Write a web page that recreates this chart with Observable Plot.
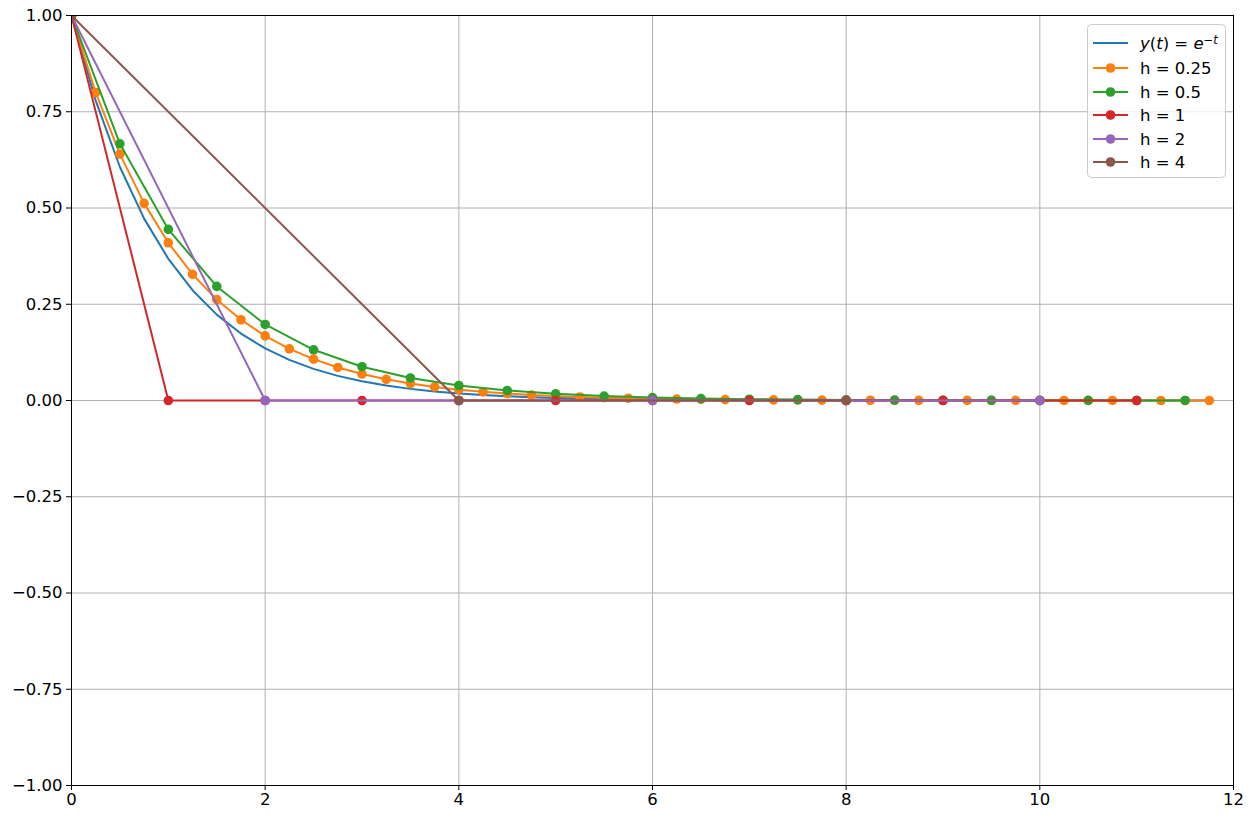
<!DOCTYPE html>
<html>
<head>
<meta charset="utf-8">
<script src="https://cdn.jsdelivr.net/npm/d3@7"></script>
<script src="https://cdn.jsdelivr.net/npm/@observablehq/plot@0.6"></script>
<style>
  html, body { margin: 0; padding: 0; background: #fff; }
</style>
</head>
<body>
<div id="chart"></div>
<script>
// exact solution y(t) = e^{-t}, sampled every 0.25
const tExact = d3.range(0, 12, 0.25);
const yExact = [1, 0.7788, 0.6065, 0.4724, 0.3679, 0.2865, 0.2231, 0.1738, 0.1353, 0.1054, 0.0821, 0.0639,
  0.0498, 0.0388, 0.0302, 0.0235, 0.0183, 0.0143, 0.0111, 0.0087, 0.0067, 0.0052, 0.0041, 0.0032,
  0.0025, 0.0019, 0.0015, 0.0012, 0.0009, 0.0007, 0.0006, 0.0004, 0.0003, 0.0003, 0.0002, 0.0002,
  0.0001, 0.0001, 0.0001, 0.0001, 0.0000, 0.0000, 0.0000, 0.0000, 0.0000, 0.0000, 0.0000, 0.0000];

// h = 0.25
const t025 = d3.range(0, 12, 0.25);
const y025 = [1, 0.8, 0.64, 0.512, 0.4096, 0.3277, 0.2621, 0.2097, 0.1678, 0.1342, 0.1074, 0.0859,
  0.0687, 0.0550, 0.0440, 0.0352, 0.0281, 0.0225, 0.0180, 0.0144, 0.0115, 0.0092, 0.0074, 0.0059,
  0.0047, 0.0038, 0.0030, 0.0024, 0.0019, 0.0015, 0.0012, 0.0010, 0.0008, 0.0006, 0.0005, 0.0004,
  0.0003, 0.0003, 0.0002, 0.0002, 0.0001, 0.0001, 0.0001, 0.0001, 0.0000, 0.0000, 0.0000, 0.0000];

// h = 0.5
const t05 = d3.range(0, 12, 0.5);
const y05 = [1, 0.6667, 0.4444, 0.2963, 0.1975, 0.1317, 0.0878, 0.0585, 0.0390, 0.0260, 0.0173, 0.0116,
  0.0077, 0.0051, 0.0034, 0.0023, 0.0015, 0.0010, 0.0007, 0.0005, 0.0003, 0.0002, 0.0001, 0.0001];

// h = 1
const t1 = [0, 1, 2, 3, 4, 5, 6, 7, 8, 9, 10, 11];
const y1 = [1, 0, 0, 0, 0, 0, 0, 0, 0, 0, 0, 0];

// h = 2
const t2 = [0, 2, 4, 6, 8, 10];
const y2 = [1, 0, 0, 0, 0, 0];

// h = 4
const t4 = [0, 4, 8];
const y4 = [1, 0, 0];

const seriesNames = ["exact", "h = 0.25", "h = 0.5", "h = 1", "h = 2", "h = 4"];
const colors = ["#1f77b4", "#ff7f0e", "#2ca02c", "#d62728", "#9467bd", "#8c564b"];
const xTicks = [0, 2, 4, 6, 8, 10, 12];
const yTicks = [-1, -0.75, -0.5, -0.25, 0, 0.25, 0.5, 0.75, 1];

const toRows = (ts, ys) => ts.map((t, i) => ({t, y: ys[i]}));
const series = [
  toRows(tExact, yExact), toRows(t025, y025), toRows(t05, y05),
  toRows(t1, y1), toRows(t2, y2), toRows(t4, y4)
];

const fmt = d => d.toFixed(2).replace("-", "\u2212");

const marks = [
  Plot.gridX(xTicks, {stroke: "#b0b0b0", strokeOpacity: 1, strokeWidth: 1}),
  Plot.gridY(yTicks, {stroke: "#b0b0b0", strokeOpacity: 1, strokeWidth: 1}),
];
series.forEach((rows, i) => {
  marks.push(Plot.line(rows, {x: "t", y: "y", stroke: colors[i], strokeWidth: 2, clip: true}));
  if (i > 0) marks.push(Plot.dot(rows, {x: "t", y: "y", fill: colors[i], r: 4.8, stroke: "none", clip: true}));
});
marks.push(
  Plot.frame({stroke: "#000", strokeWidth: 1}),
  Plot.axisX(xTicks, {tickSize: 5, tickPadding: 3, fontSize: 16.5, tickFormat: d => String(d)}),
  Plot.axisY(yTicks, {tickSize: 5, tickPadding: 4, fontSize: 16.5, tickFormat: fmt})
);

const chart = Plot.plot({
  width: 1253,
  height: 820,
  marginLeft: 71,
  marginRight: 20,
  marginTop: 15,
  marginBottom: 35,
  style: {fontFamily: "DejaVu Sans", fontSize: "16.5px", color: "#000", background: "#fff"},
  x: {domain: [0, 12], label: null},
  y: {domain: [-1, 1], label: null},
  marks
});
document.getElementById("chart").appendChild(chart);

// legend (drawn in the same SVG)
const svg = d3.select(chart);
const lg = svg.append("g").attr("font-family", "DejaVu Sans").attr("font-size", 16.5).attr("text-anchor", "start");
lg.append("rect").attr("x", 1087.5).attr("y", 24.5).attr("width", 138).attr("height", 153)
  .attr("rx", 4).attr("fill", "#fff").attr("fill-opacity", 0.8).attr("stroke", "#cccccc").attr("stroke-width", 1);
const rowY = [43, 68, 92, 115, 139, 162];
seriesNames.forEach((name, i) => {
  const g = lg.append("g").attr("transform", `translate(0,${rowY[i]})`);
  g.append("line").attr("x1", 1093).attr("x2", 1128).attr("y1", 0).attr("y2", 0)
    .attr("stroke", colors[i]).attr("stroke-width", 2);
  if (i > 0) g.append("circle").attr("cx", 1110.5).attr("cy", 0).attr("r", 4.8).attr("fill", colors[i]);
  const tx = g.append("text").attr("x", 1140).attr("y", 0).attr("dy", "0.35em").attr("fill", "#000")
    .style("text-anchor", "start");
  if (i === 0) {
    tx.append("tspan").attr("font-style", "italic").text("y");
    tx.append("tspan").text("(");
    tx.append("tspan").attr("font-style", "italic").text("t");
    tx.append("tspan").text(") = ");
    tx.append("tspan").attr("font-style", "italic").text("e");
    tx.append("tspan").attr("font-size", 11.5).attr("dy", "-0.45em").text("\u2212");
    tx.append("tspan").attr("font-size", 11.5).attr("font-style", "italic").text("t");
  } else {
    tx.text(name);
  }
});
</script>
</body>
</html>
